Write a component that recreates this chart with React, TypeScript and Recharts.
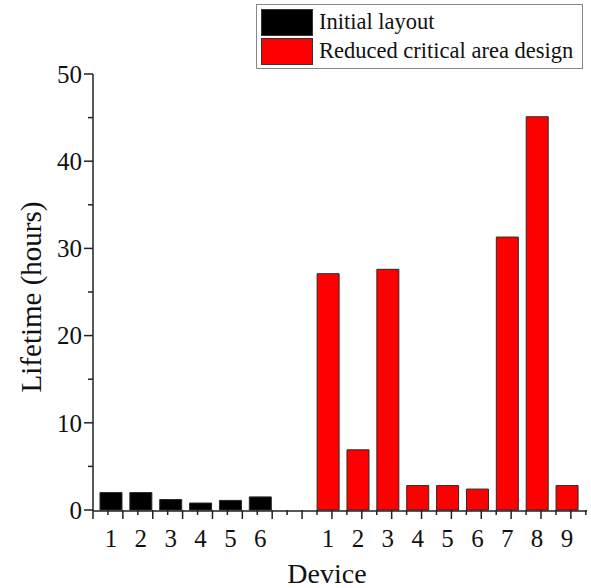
import { BarChart, Bar, XAxis, YAxis } from 'recharts'

const initialDevices = ['1', '2', '3', '4', '5', '6']
const initialLifetime = [2.0, 2.0, 1.2, 0.8, 1.1, 1.5]
const reducedDevices = ['1', '2', '3', '4', '5', '6', '7', '8', '9']
const reducedLifetime = [27.1, 6.9, 27.6, 2.8, 2.8, 2.4, 31.3, 45.1, 2.8]
const yTicks = [0, 5, 10, 15, 20, 25, 30, 35, 40, 45, 50]

// where each group starts on the x scale (units of one device slot)
const initialStart = 0.6
const reducedStart = 7.87
const xMax = 16.54

const font = '"Liberation Serif", "Times New Roman", serif'
const ink = '#222'

const data = [
  ...initialDevices.map((d, i) => ({ pos: initialStart + i, label: d, initial: initialLifetime[i] })),
  ...reducedDevices.map((d, i) => ({ pos: reducedStart + i, label: d, reduced: reducedLifetime[i] })),
]
const labelByPos = new Map(data.map((r) => [r.pos, r.label]))

const gridTicks: number[] = []
for (let v = 0; v <= 16.5; v += 0.5) gridTicks.push(v)

const series = [
  { key: 'initial', name: 'Initial layout', color: '#000000' },
  { key: 'reduced', name: 'Reduced critical area design', color: '#ff0000' },
]

const DeviceTick = (props: any) => {
  const { x, y, payload } = props
  return (
    <text x={x} y={y + 36} textAnchor="middle" fontSize={25} fontFamily={font} fill="#111">
      {labelByPos.get(payload.value)}
    </text>
  )
}

const GridTick = (props: any) => {
  const { x, y, payload } = props
  const major = Number.isInteger(payload.value)
  return <line x1={x} x2={x} y1={y} y2={y + (major ? 9 : 5)} stroke={ink} strokeWidth={1.5} />
}

const LifetimeTick = (props: any) => {
  const { x, y, payload } = props
  const major = payload.value % 10 === 0
  return (
    <g>
      <line x1={x} x2={x - (major ? 9 : 5)} y1={y} y2={y} stroke={ink} strokeWidth={1.5} />
      {major && (
        <text x={x - 11} y={y} dy="0.35em" textAnchor="end" fontSize={25} fontFamily={font} fill="#111">
          {payload.value}
        </text>
      )}
    </g>
  )
}

export default function App() {
  return (
    <div style={{ position: 'absolute', left: 0, top: 0, width: 591, height: 588, background: '#fff' }}>
      <BarChart width={591} height={588} data={data} margin={{ top: 74, right: 4, bottom: 0, left: 0 }}>
        <XAxis
          xAxisId="grid"
          type="number"
          dataKey="pos"
          domain={[0, xMax]}
          ticks={gridTicks}
          interval={0}
          height={1}
          axisLine={false}
          tickLine={false}
          tickSize={0}
          tickMargin={0}
          tick={<GridTick />}
        />
        <XAxis
          xAxisId="main"
          type="number"
          dataKey="pos"
          domain={[0, xMax]}
          ticks={data.map((r) => r.pos)}
          interval={0}
          height={77}
          axisLine={{ stroke: ink, strokeWidth: 1.5 }}
          tickLine={false}
          tickSize={0}
          tickMargin={0}
          tick={<DeviceTick />}
          label={{
            content: (p: any) => {
              const vb = p.viewBox
              return (
                <text x={327} y={vb.y + 72} textAnchor="middle" fontSize={28} fontFamily={font} fill="#111">
                  Device
                </text>
              )
            },
          }}
        />
        <YAxis
          type="number"
          domain={[0, 50]}
          ticks={yTicks}
          interval={0}
          width={93}
          axisLine={{ stroke: ink, strokeWidth: 1.5 }}
          tickLine={false}
          tickSize={0}
          tickMargin={0}
          tick={<LifetimeTick />}
          label={{
            content: (p: any) => {
              const vb = p.viewBox
              const cy = vb.y + vb.height / 2 + 5
              return (
                <text
                  x={41}
                  y={cy}
                  transform={`rotate(-90, 41, ${cy})`}
                  textAnchor="middle"
                  fontSize={29}
                  fontFamily={font}
                  fill="#111"
                >
                  Lifetime (hours)
                </text>
              )
            },
          }}
        />
        {series.map((s) => (
          <Bar
            key={s.key}
            xAxisId="main"
            dataKey={s.key}
            name={s.name}
            stackId="devices"
            fill={s.color}
            stroke="#2a2a2a"
            strokeWidth={1}
            barSize={22}
            isAnimationActive={false}
          />
        ))}
      </BarChart>
      <div
        style={{
          position: 'absolute',
          left: 256,
          top: 4,
          width: 325,
          height: 63,
          border: '1px solid #888',
          fontFamily: font,
          fontSize: 22.5,
          color: '#111',
        }}
      >
        {series.map((s, i) => (
          <div
            key={s.key}
            style={{ position: 'absolute', left: 4, top: 4 + i * 29, display: 'flex', alignItems: 'flex-start' }}
          >
            <div style={{ width: 50, height: 25, background: s.color, border: '1px solid #333' }} />
            <span style={{ marginLeft: 6, lineHeight: '26px', whiteSpace: 'nowrap' }}>{s.name}</span>
          </div>
        ))}
      </div>
    </div>
  )
}
